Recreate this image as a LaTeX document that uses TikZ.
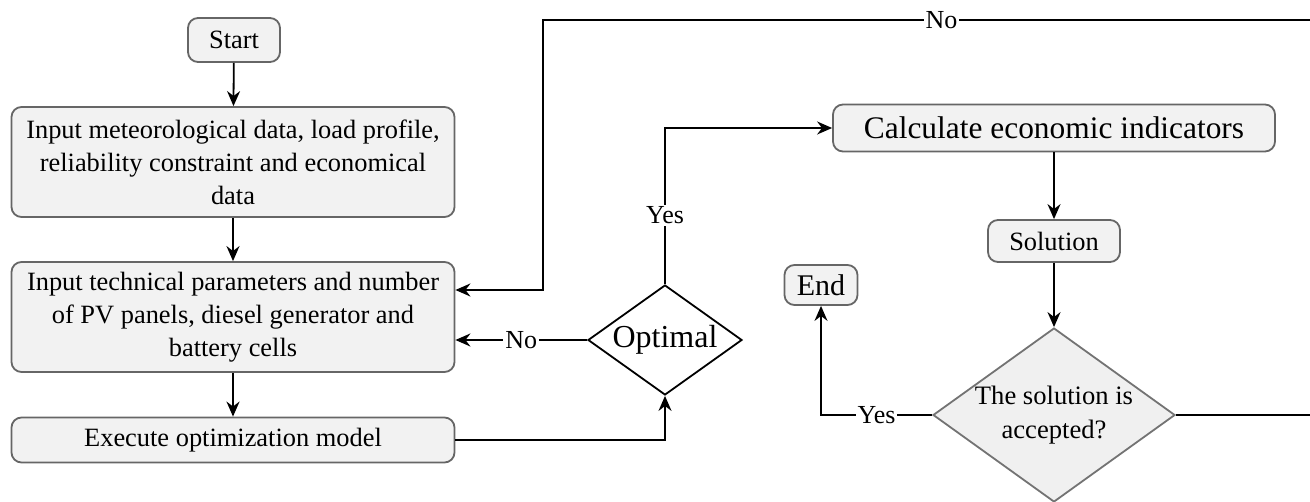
\documentclass[tikz,border=0pt]{standalone}
\usepackage{fontspec}
\setmainfont{Liberation Serif}
\usetikzlibrary{arrows.meta,shapes.geometric}

\begin{document}
\begin{tikzpicture}[x=0.5pt, y=-0.5pt, >={Stealth[length=7.5pt,width=6.5pt]},
        line width=0.9pt,
        box/.style={draw=black!60, fill=black!5, rounded corners=5pt, align=center,
                font=\fontsize{13.2}{16.5}\selectfont},
        dec/.style={diamond, aspect=1.4, draw, align=center, inner sep=0pt},
        lbl/.style={fill=white, inner sep=1pt, font=\fontsize{13}{14}\selectfont}]
        \useasboundingbox (0,0) rectangle (1310,502);
        % left column
        \node[box, minimum width=46pt, minimum height=22pt] (start) at (234,40) {Start};
        \node[box, minimum width=221.5pt, minimum height=55pt] (meteo) at (233,162)
                {Input meteorological data, load profile,\\reliability constraint and economical\\data};
        \node[box, minimum width=221.5pt, minimum height=55pt] (tech) at (233,317)
                {Input technical parameters and number\\of PV panels, diesel generator and\\battery cells};
        \node[box, minimum width=221.5pt, minimum height=22.5pt] (exec) at (233,440)
                {Execute optimization model};
        \node[dec, fill=white, minimum width=77pt, minimum height=55pt,
                font=\fontsize{16}{18}\selectfont] (opt) at (665,340) {Optimal};
        % right column
        \node[box, minimum width=221pt, minimum height=23.5pt,
                font=\fontsize{15.7}{18}\selectfont] (calc) at (1054,128) {Calculate economic indicators};
        \node[box, minimum width=66pt, minimum height=21pt] (sol) at (1054,241) {Solution};
        \node[dec, draw=black!55, fill=black!6, minimum width=121pt, minimum height=87pt,
                font=\fontsize{13.3}{17}\selectfont] (acc) at (1054,415) {The solution is\\accepted?};
        \node[box, minimum width=36.5pt, minimum height=20pt,
                font=\fontsize{15}{17}\selectfont] (end) at (821,285) {End};
        \coordinate (edge) at (1340,20);
        \coordinate (corner) at (543,20);

        \draw[->] (start) -- (meteo);
        \draw[->] (meteo) -- (tech);
        \draw[->] (tech) -- (exec);
        \draw[->] (exec.east) -| (opt.south);
        \draw[->] (opt.west) -- node[lbl]{No} (opt.west -| tech.east);
        \draw[->] (opt.north) |- node[lbl, pos=0.22]{Yes} (calc.west);
        \draw[->] (calc) -- (sol);
        \draw[->] (sol) -- (acc);
        \draw[->] (acc.west) -| node[lbl, pos=0.25]{Yes} (end.south);
        \draw[->] (acc.east) -| (edge) -- node[lbl]{No} (corner)
                |- ([yshift=13.5pt]tech.east);
\end{tikzpicture}
\end{document}
